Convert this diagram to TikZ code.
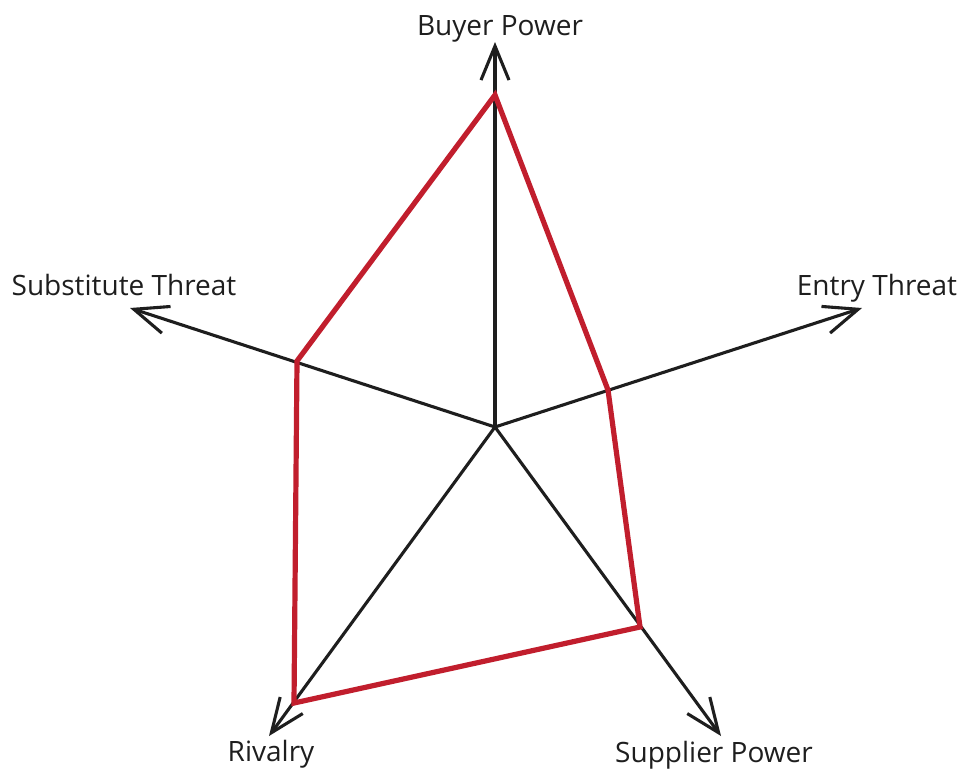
\documentclass[tikz,border=0pt]{standalone}
\usepackage{fontspec}
\setmainfont{Open Sans}
\usetikzlibrary{arrows.meta}
\definecolor{profile}{RGB}{193,30,45}
\definecolor{ink}{RGB}{30,30,30}
\tikzset{
  axis/.style={draw=ink, line width=3.1pt, -{Straight Barb[length=34pt,width=28pt,line width=3.1pt]}},
  profileline/.style={draw=profile, line width=5.2pt, line join=miter},
  axislabel/.style={font=\fontsize{28}{32}\selectfont, text=ink, inner sep=0pt, anchor=base}
}
\begin{document}
\begin{tikzpicture}[x=1pt,y=-1pt]
  \useasboundingbox (0,0) rectangle (963,769);
  % centre and axis ends
  \coordinate (O) at (495,427);
  \coordinate (buyer) at (495,42);
  \coordinate (entry) at (862,308);
  \coordinate (supplier) at (721,736);
  \coordinate (rivalry) at (269,736);
  \coordinate (subst) at (130,308);
  % profile vertices
  \coordinate (pB) at (495,95);
  \coordinate (pE) at (608,390);
  \coordinate (pS) at (640,627);
  \coordinate (pR) at (294,703);
  \coordinate (pT) at (297,361);
  % axes
  \draw[axis] (O) -- (buyer);
  \draw[axis] (O) -- (entry);
  \draw[axis] (O) -- (supplier);
  \draw[axis] (O) -- (rivalry);
  \draw[axis] (O) -- (subst);
  % profile
  \draw[profileline] (pB) -- (pE) -- (pS) -- (pR) -- (pT) -- cycle;
  % labels
  \node[axislabel] (lB) at (500,35) {Buyer Power};
  \node[axislabel] (lE) at (877,295) {Entry Threat};
  \node[axislabel] (lS) at (714,762) {Supplier Power};
  \node[axislabel] (lR) at (271,761) {Rivalry};
  \node[axislabel] (lT) at (124,295) {Substitute Threat};
\end{tikzpicture}
\end{document}
